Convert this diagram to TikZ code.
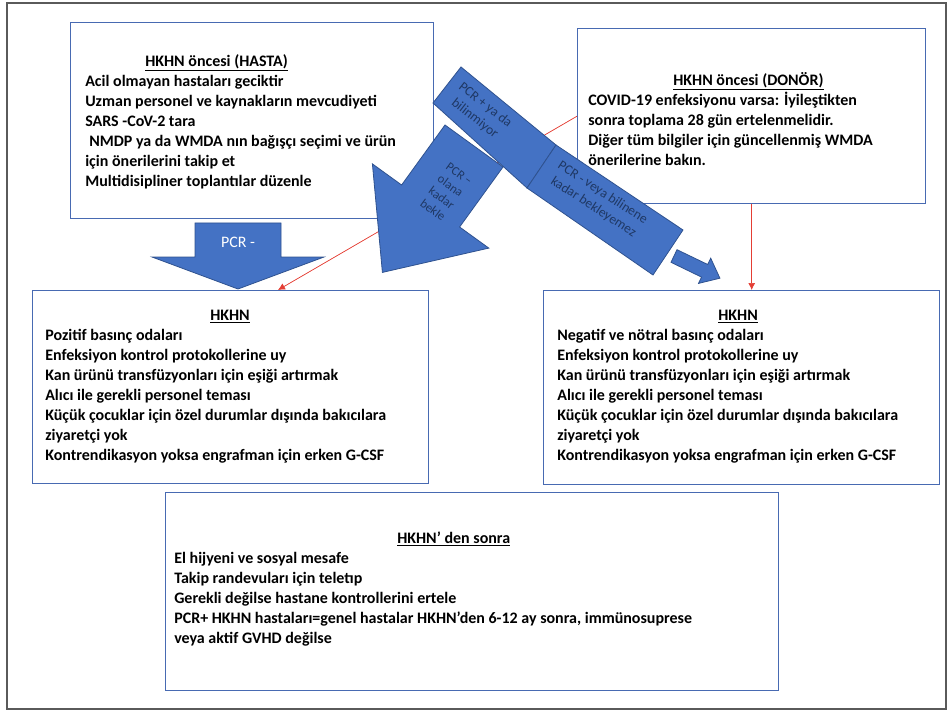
\documentclass[tikz,border=0pt]{standalone}
\usepackage{fontspec}
\setmainfont{Carlito}
\usetikzlibrary{arrows.meta, positioning, calc}

\definecolor{boxblue}{RGB}{72,106,178}
\definecolor{arrowfill}{RGB}{68,114,196}
\definecolor{arrowline}{RGB}{47,82,143}
\definecolor{arrowtext}{RGB}{31,56,100}
\definecolor{linkred}{RGB}{228,62,52}
\definecolor{framegray}{RGB}{90,90,90}

\begin{document}
\begin{tikzpicture}[x=1pt,y=-1pt,>={Latex[length=7pt,width=7pt]},semithick]
  \tikzstyle{infobox}=[draw=boxblue,line width=1.4pt,fill=white,anchor=north west,inner sep=0pt]
  \tikzstyle{boxtext}=[anchor=north west,align=left,inner sep=0pt,font=\bfseries\fontsize{16}{20}\selectfont]
  \tikzstyle{blockarrow}=[fill=arrowfill,draw=arrowline,line width=0.8pt]
  \tikzstyle{arrowtext}=[text=arrowtext,align=center,inner sep=0pt,font=\fontsize{13.5}{17}\selectfont]
  \tikzstyle{redlink}=[->,draw=linkred,fill=linkred,line width=0.7pt]

  \useasboundingbox (0,0) rectangle (949,711);
  \draw[framegray,line width=1.2pt] (7,3) rectangle (946,709);

  % text boxes
  \node[infobox,minimum width=363pt,minimum height=196pt] (hasta) at (70,22)   {};
  \node[infobox,minimum width=348pt,minimum height=175pt] (donor) at (577,28)  {};
  \node[infobox,minimum width=396pt,minimum height=193pt] (lhkhn) at (32,290)  {};
  \node[infobox,minimum width=396pt,minimum height=194pt] (rhkhn) at (543,290) {};
  \node[infobox,minimum width=613pt,minimum height=198pt] (after) at (165,492) {};

  \node[boxtext,below right=32pt and 15pt of hasta.north west] (hastatext) {%
    \hspace*{60pt}\underline{HKHN öncesi (HASTA)}\\
    Acil olmayan hastaları geciktir\\
    Uzman personel ve kaynakların mevcudiyeti\\
    SARS -CoV-2 tara\\
    \hspace*{4pt}NMDP ya da WMDA nın bağışçı seçimi ve ürün\\
    için önerilerini takip et\\
    Multidisipliner toplantılar düzenle};
  \node[boxtext,below right=44pt and 11pt of donor.north west] (donortext) {%
    \hspace*{85pt}\underline{HKHN öncesi (DONÖR)}\\
    COVID-19 enfeksiyonu varsa: İyileştikten\\
    sonra toplama 28 gün ertelenmelidir.\\
    Diğer tüm bilgiler için güncellenmiş WMDA\\
    önerilerine bakın.};
  \node[boxtext,below right=20pt and 13pt of lhkhn.north west] (lhkhntext) {%
    \hspace*{165pt}\underline{HKHN}\\
    Pozitif basınç odaları\\
    Enfeksiyon kontrol protokollerine uy\\
    Kan ürünü transfüzyonları için eşiği artırmak\\
    Alıcı ile gerekli personel teması\\
    Küçük çocuklar için özel durumlar dışında bakıcılara\\
    ziyaretçi yok\\
    Kontrendikasyon yoksa engrafman için erken G-CSF};
  \node[boxtext,below right=20pt and 14pt of rhkhn.north west] (rhkhntext) {%
    \hspace*{161pt}\underline{HKHN}\\
    Negatif ve nötral basınç odaları\\
    Enfeksiyon kontrol protokollerine uy\\
    Kan ürünü transfüzyonları için eşiği artırmak\\
    Alıcı ile gerekli personel teması\\
    Küçük çocuklar için özel durumlar dışında bakıcılara\\
    ziyaretçi yok\\
    Kontrendikasyon yoksa engrafman için erken G-CSF};
  \node[boxtext,below right=40pt and 9pt of after.north west] (aftertext) {%
    \hspace*{223pt}\underline{HKHN’ den sonra}\\
    El hijyeni ve sosyal mesafe\\
    Takip randevuları için teletıp\\
    Gerekli değilse hastane kontrollerini ertele\\
    PCR+ HKHN hastaları=genel hastalar HKHN’den 6-12 ay sonra, immünosuprese\\
    veya aktif GVHD değilse};

  % red links, behind the block arrows
  \coordinate (lhkhnin) at ($(lhkhn.north west)!0.619!(lhkhn.north east)$);
  \path (donor.west)  edge[redlink] (lhkhnin)
        (donor.south) edge[redlink] (donor.south |- rhkhn.north);

  % block arrows
  \filldraw[blockarrow] (195,223) -- (281,223) -- (281,257) -- (324,257) -- (238,289)
    -- (152,257) -- (195,257) -- cycle;
  \filldraw[blockarrow] (461,67) -- (556,145) -- (527,188) -- (433,103) -- cycle;
  \filldraw[blockarrow] (556,145) -- (683,230) -- (653,275) -- (527,188) -- cycle;
  \filldraw[blockarrow] (445,125) -- (503,167) -- (459.6,227) -- (488.8,248.1)
    -- (382.4,272.4) -- (372.4,163.9) -- (401.6,185) -- cycle;
  \filldraw[blockarrow] (677,249.7) -- (707.7,264.5) -- (710.7,258.2) -- (719.9,278.2)
    -- (698.5,283.4) -- (701.5,277.1) -- (671,262.3) -- cycle;

  \node[arrowtext,text=white,font=\fontsize{16}{18}\selectfont] (pcrneg) at (238,242) {PCR -};
  \node[arrowtext,rotate=-38] (unknowntext) at (480,112) {PCR + ya da\\bilinmiyor};
  \node[arrowtext,rotate=-36,font=\fontsize{12.5}{15}\selectfont] (waittext) at (446,192) {PCR –\\olana\\kadar\\bekle};
  \node[arrowtext,rotate=-33] (nowaittext) at (598,200) {PCR - veya bilinene\\kadar bekleyemez};
\end{tikzpicture}
\end{document}
